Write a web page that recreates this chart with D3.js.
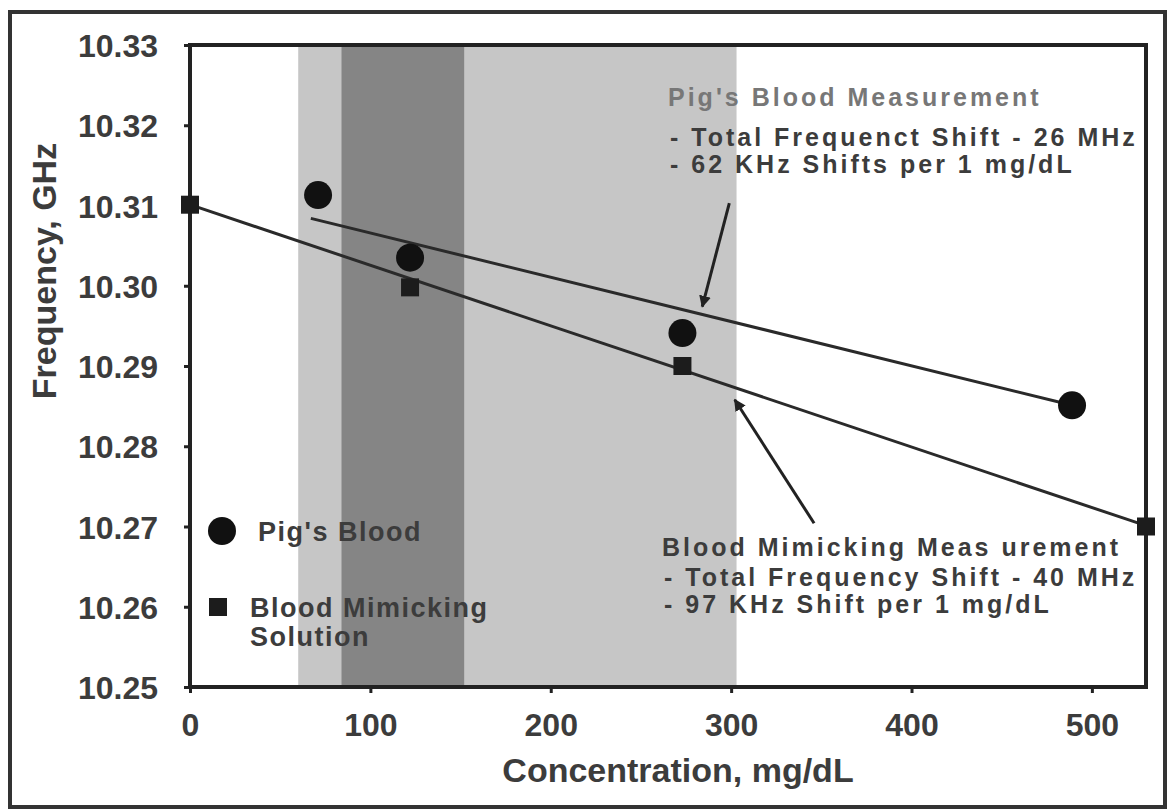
<!DOCTYPE html>
<meta charset="utf-8">
<style>
body { margin: 0; background: #fff; }
.canvas text { font-family: "Liberation Sans", Arial, sans-serif; font-weight: bold; fill: #3c3c3c; }
.axis text { font-size: 32px; }
.axis path, .axis line { stroke: #222; stroke-width: 3; }
.title { font-size: 34px; }
.note { font-size: 25px; letter-spacing: 3px; }
.legend text { font-size: 27px; letter-spacing: 1.5px; }
</style>
<svg class="canvas"></svg>
<script src="https://cdn.jsdelivr.net/npm/d3@7"></script>
<script>

// pig's blood measurement (circles)
var pigConc = [71, 122, 273, 489];
var pigFreq = [10.3113, 10.3035, 10.2941, 10.2851];

// blood mimicking solution (squares)
var mimConc = [0, 122, 273, 530];
var mimFreq = [10.3101, 10.2998, 10.2900, 10.2700];

// trend lines
var pigTrend = [[67, 10.3084], [489, 10.2851]];
var mimTrend = [[0, 10.3101], [530, 10.2701]];

// shaded concentration bands
var bandLight = [60, 303];
var bandDark = [84, 152];

var xTicks = [0, 100, 200, 300, 400, 500];
var yTicks = [10.25, 10.26, 10.27, 10.28, 10.29, 10.30, 10.31, 10.32, 10.33];

var pigNote = ["Pig's Blood Measurement", "- Total  Frequenct Shift - 26 MHz", "- 62 KHz Shifts per 1 mg/dL"];
var mimNote = ["Blood Mimicking Meas urement", "- Total Frequency  Shift - 40 MHz", "- 97 KHz Shift per 1 mg/dL"];

var width = 1168,
	height = 810;

var LEFT = 190, RIGHT = 1146, TOP = 45, BOTTOM = 687;

var canvas = d3.select(".canvas")
	.attr("width", width)
	.attr("height", height);

var x = d3.scaleLinear().domain([0, 530]).range([LEFT, RIGHT]);
var y = d3.scaleLinear().domain([10.25, 10.33]).range([BOTTOM, TOP]);

// outer frame
canvas.append("rect")
	.attr("x", 10).attr("y", 12)
	.attr("width", 1155).attr("height", 795)
	.attr("fill", "none")
	.attr("stroke", "#333")
	.attr("stroke-width", 4);

// bands
canvas.append("rect")
	.attr("x", x(bandLight[0])).attr("y", TOP)
	.attr("width", x(bandLight[1]) - x(bandLight[0]))
	.attr("height", BOTTOM - TOP)
	.attr("fill", "#c6c6c6");

canvas.append("rect")
	.attr("x", x(bandDark[0])).attr("y", TOP)
	.attr("width", x(bandDark[1]) - x(bandDark[0]))
	.attr("height", BOTTOM - TOP)
	.attr("fill", "#858585");

// plot frame
canvas.append("rect")
	.attr("x", LEFT).attr("y", TOP)
	.attr("width", RIGHT - LEFT).attr("height", BOTTOM - TOP)
	.attr("fill", "none")
	.attr("stroke", "#222")
	.attr("stroke-width", 4);

// axes
var xAxis = canvas.append("g")
	.attr("class", "axis")
	.attr("transform", "translate(0," + BOTTOM + ")")
	.call(d3.axisBottom(x).tickValues(xTicks).tickFormat(d3.format("d")).tickSize(6).tickPadding(20));
xAxis.select(".domain").remove();

var yAxis = canvas.append("g")
	.attr("class", "axis")
	.attr("transform", "translate(" + LEFT + ",0)")
	.call(d3.axisLeft(y).tickValues(yTicks).tickFormat(d3.format(".2f")).tickSize(6).tickPadding(26));
yAxis.select(".domain").remove();
yAxis.selectAll("text").attr("dy", "0.36em");

canvas.append("text")
	.attr("class", "title")
	.attr("x", (LEFT + RIGHT) / 2 + 10)
	.attr("y", 782)
	.attr("text-anchor", "middle")
	.text("Concentration, mg/dL");

canvas.append("text")
	.attr("class", "title")
	.attr("transform", "translate(56," + ((TOP + BOTTOM) / 2 - 95) + ") rotate(-90)")
	.attr("text-anchor", "middle")
	.text("Frequency, GHz");

// trend lines
var line = d3.line().x(function(d) { return x(d[0]); }).y(function(d) { return y(d[1]); });

canvas.append("path").datum(pigTrend)
	.attr("d", line)
	.attr("stroke", "#2a2a2a").attr("stroke-width", 3).attr("fill", "none");

canvas.append("path").datum(mimTrend)
	.attr("d", line)
	.attr("stroke", "#2a2a2a").attr("stroke-width", 3).attr("fill", "none");

// markers
canvas.selectAll("circle.pig").data(d3.zip(pigConc, pigFreq))
	.enter().append("circle")
	.attr("class", "pig")
	.attr("cx", function(d) { return x(d[0]); })
	.attr("cy", function(d) { return y(d[1]); })
	.attr("r", 14)
	.attr("fill", "#111");

var SQ = 18;
canvas.selectAll("rect.mim").data(d3.zip(mimConc, mimFreq))
	.enter().append("rect")
	.attr("class", "mim")
	.attr("x", function(d) { return x(d[0]) - SQ / 2; })
	.attr("y", function(d) { return y(d[1]) - SQ / 2; })
	.attr("width", SQ).attr("height", SQ)
	.attr("fill", "#1c1c1c");

// arrows
canvas.append("defs").append("marker")
	.attr("id", "head")
	.attr("viewBox", "0 0 10 10")
	.attr("refX", 9).attr("refY", 5)
	.attr("markerWidth", 4).attr("markerHeight", 4)
	.attr("orient", "auto")
	.append("path").attr("d", "M0,0L10,5L0,10z").attr("fill", "#222");

var arrows = [
	[[299, 10.3103], [284, 10.2974]],
	[[346, 10.2704], [302, 10.2858]]
];
canvas.selectAll("line.arrow").data(arrows)
	.enter().append("line")
	.attr("class", "arrow")
	.attr("x1", function(d) { return x(d[0][0]); })
	.attr("y1", function(d) { return y(d[0][1]); })
	.attr("x2", function(d) { return x(d[1][0]); })
	.attr("y2", function(d) { return y(d[1][1]); })
	.attr("stroke", "#222").attr("stroke-width", 3)
	.attr("marker-end", "url(#head)");

// annotations
canvas.selectAll("text.pnote").data(pigNote)
	.enter().append("text")
	.attr("class", "note pnote")
	.attr("x", function(d, i) { return i ? 670 : 668; })
	.attr("y", function(d, i) { return [106, 146, 173][i]; })
	.style("fill", function(d, i) { return i ? "#3c3c3c" : "#777"; })
	.text(function(d) { return d; });

canvas.selectAll("text.mnote").data(mimNote)
	.enter().append("text")
	.attr("class", "note mnote")
	.attr("x", function(d, i) { return i ? 664 : 662; })
	.attr("y", function(d, i) { return [556, 586, 613][i]; })
	.text(function(d) { return d; });

// legend
var legend = canvas.append("g").attr("class", "legend");
legend.append("circle").attr("cx", 222).attr("cy", 531).attr("r", 14).attr("fill", "#111");
legend.append("text").attr("x", 258).attr("y", 541).text("Pig's Blood");
legend.append("rect").attr("x", 209).attr("y", 598).attr("width", SQ).attr("height", SQ).attr("fill", "#1c1c1c");
legend.append("text").attr("x", 250).attr("y", 617).text("Blood Mimicking");
legend.append("text").attr("x", 250).attr("y", 646).text("Solution");

</script>
